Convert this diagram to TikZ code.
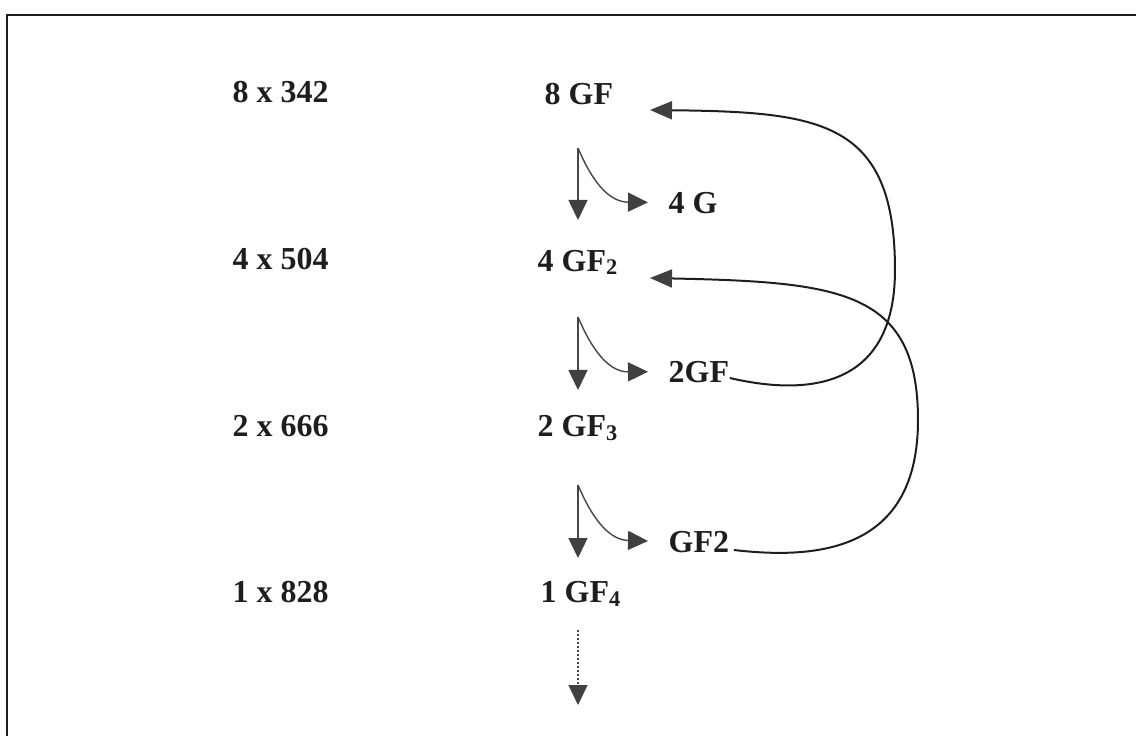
\documentclass[tikz,border=0pt]{standalone}
\usepackage{fontspec}
\setmainfont{Liberation Serif}
\usetikzlibrary{arrows.meta,calc,positioning}

\definecolor{r30g30b30}{rgb}{0.117647,0.117647,0.117647}
\definecolor{r64g64b64}{rgb}{0.250980,0.250980,0.250980}
\definecolor{r70g70b70}{rgb}{0.274510,0.274510,0.274510}

\tikzset{
  lbl/.style={font=\fontsize{9.1}{10}\selectfont\bfseries, text=r30g30b30, inner sep=0pt, anchor=base west},
  thin/.style={line width=0.014cm, draw=r70g70b70, arrows={-{Triangle[length=0.2cm,width=0.19cm,color=r64g64b64]}}},
  loop/.style={line width=0.02cm, draw=r30g30b30, arrows={-{Triangle[length=0.22cm,width=0.18cm,color=r64g64b64]}}}
}

\begin{document}
\begin{tikzpicture}
\useasboundingbox (0,0) rectangle (11.36,-7.36);

% Frame, open at the bottom and on the right
\draw [line width=0.025cm, r30g30b30] (0.07,-7.40) -- (0.07,-0.15) -- (11.40,-0.15);

% Left column
\node [lbl] (r1) at (2.32,-1.03) {8 x 342};
\node [lbl] (r2) at (2.32,-2.70) {4 x 504};
\node [lbl] (r3) at (2.32,-4.37) {2 x 666};
\node [lbl] (r4) at (2.32,-6.03) {1 x 828};

% Middle column
\node [lbl] (gf8) at (5.44,-1.05) {8 GF};
\node [lbl] (gf42) at (5.37,-2.71) {4 GF\textsubscript{2}};
\node [lbl] (gf23) at (5.37,-4.37) {2 GF\textsubscript{3}};
\node [lbl] (gf14) at (5.40,-6.03) {1 GF\textsubscript{4}};

% Right column
\node [lbl] (g4) at (6.68,-2.13) {4 G};
\node [lbl] (gf2a) at (6.68,-3.82) {2GF};
\node [lbl] (gf2b) at (6.68,-5.52) {GF2};

% Start and end points of the arrows
\coordinate (s1) at (5.78,-1.48);
\coordinate (d1) at (5.78,-2.20);
\coordinate (s2) at (5.78,-3.17);
\coordinate (d2) at (5.78,-3.90);
\coordinate (s3) at (5.78,-4.85);
\coordinate (d3) at (5.78,-5.58);
\coordinate (s4) at (5.78,-6.30);
\coordinate (d4) at (5.78,-7.05);
\coordinate (in8) at (6.50,-1.10);
\coordinate (in4) at (6.50,-2.78);

% Step arrows
\draw [thin] (s1) -- (d1);
\draw [thin, shorten >=0.2cm] (s1) .. controls (5.95,-1.88) and (6.12,-2.02) .. (g4.west);
\draw [thin] (s2) -- (d2);
\draw [thin, shorten >=0.2cm] (s2) .. controls (5.95,-3.57) and (6.12,-3.72) .. (gf2a.west);
\draw [thin] (s3) -- (d3);
\draw [thin, shorten >=0.2cm] (s3) .. controls (5.95,-5.25) and (6.12,-5.40) .. (gf2b.west);
\draw [thin, dash pattern=on 0.025cm off 0.015cm] (s4) -- (d4);

% Loops back
\draw [loop] ($(gf2a.base east)+(0,0.04)$) .. controls (7.90,-3.92) and (8.95,-4.00) .. (8.95,-2.70)
             .. controls (8.95,-1.20) and (8.20,-1.12) .. (in8);
\draw [loop] ($(gf2b.base east)+(0.04,0.02)$) .. controls (8.20,-5.60) and (9.18,-5.50) .. (9.18,-4.20)
             .. controls (9.18,-2.90) and (8.40,-2.82) .. (in4);
\end{tikzpicture}
\end{document}
